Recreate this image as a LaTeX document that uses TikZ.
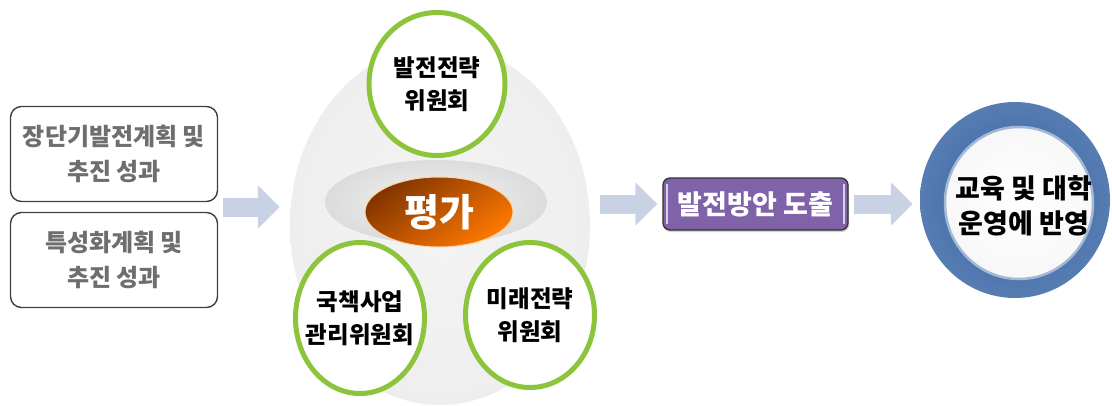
\documentclass[tikz,border=0pt]{standalone}
\usepackage{fontspec}
\setmainfont{Noto Sans CJK KR}
\usetikzlibrary{shapes.geometric,arrows.meta,calc,shadows}
\definecolor{boxtext}{HTML}{6E6E6E}
\definecolor{arrowfill}{HTML}{C9D2E5}
\definecolor{ringgreen}{HTML}{8CC43C}
\definecolor{planpurple}{HTML}{7F62A8}
\definecolor{resultblue}{HTML}{3563A3}
\pgfdeclareradialshading{eggshade}{\pgfpoint{0bp}{0bp}}{color(0bp)=(gray!9); color(30bp)=(gray!14); color(50bp)=(gray!26)}
\pgfdeclareradialshading{ringshade}{\pgfpoint{0bp}{0bp}}{color(0bp)=(gray!8); color(28bp)=(gray!30); color(50bp)=(gray!62)}
\pgfdeclareradialshading{blueshade}{\pgfpoint{0bp}{0bp}}{color(0bp)=(resultblue); color(38bp)=(resultblue!75!white); color(44bp)=(resultblue); color(50bp)=(resultblue!55!black)}
\pgfdeclareradialshading{discshade}{\pgfpoint{0bp}{0bp}}{color(0bp)=(white); color(34bp)=(gray!8); color(50bp)=(gray!35)}
\begin{document}
\begin{tikzpicture}[x=1pt,y=-1pt]
    \tikzset{
      inbox/.style={draw=black!75, line width=1.4pt, rounded corners=11pt, minimum width=207pt, minimum height=95pt, align=center, text=boxtext, font=\fontsize{24}{35}\selectfont\bfseries},
      committee/.style={ellipse, draw=ringgreen, line width=5pt, fill=white, inner sep=0pt},
      cmtext/.style={align=center, font=\fontsize{23.5}{33}\selectfont\bfseries},
      blockarrow/.style={draw=arrowfill, line width=19pt, -{Triangle[length=22pt,width=42pt]}}
    }
    \useasboundingbox (0,0) rectangle (1112,405);
    \node[inbox] (plan1) at (114,154) {장단기발전계획 및\\추진 성과};
    \node[inbox] (plan2) at (114,260) {특성화계획 및\\추진 성과};
    \node[ellipse, shading=eggshade, inner sep=0pt, minimum width=300pt, minimum height=360pt] (egg) at (440,225) {};
    \node[ellipse, shading=ringshade, inner sep=0pt, minimum width=222pt, minimum height=84pt] (ring) at (436,202) {};
    \node[ellipse, inner sep=0pt, minimum width=148pt, minimum height=70pt, draw=orange!35!white, line width=1pt,
          top color=black!55!orange!90!red, bottom color=orange!95!red, shading angle=35,
          text=white, font=\fontsize{38}{38}\selectfont\bfseries] (eval) at (439,212) {평가};
    \node[committee, minimum width=136pt, minimum height=143pt] (strat) at (437,84) {};
    \node[cmtext] at (strat) {발전전략\\위원회};
    \node[committee, minimum width=129pt, minimum height=151pt] (nation) at (360,318) {};
    \node[cmtext] at (nation) {국책사업\\관리위원회};
    \node[committee, minimum width=129pt, minimum height=145pt] (future) at (530,315) {};
    \node[cmtext] at (future) {미래전략\\위원회};
    \node[draw=black!80, line width=1.3pt, fill=planpurple, rounded corners=7pt, minimum width=185pt, minimum height=52pt,
          drop shadow={shadow xshift=1pt, shadow yshift=-2pt, opacity=0.35},
          text=white, font=\fontsize{27}{27}\selectfont\bfseries] (plan) at (755.5,204) {발전방안 도출};
    \draw[planpurple!30!white, line width=2pt] ($(plan.north west)+(5,7)$) -- ($(plan.south west)+(5,-7)$);
    \draw[planpurple!30!white, line width=2pt] ($(plan.north east)+(-5,7)$) -- ($(plan.south east)+(-5,-7)$);
    \node[ellipse, shading=blueshade, inner sep=0pt, minimum width=190pt, minimum height=196pt] (result) at (1015,200) {};
    \node[ellipse, shading=discshade, draw=resultblue!45!white, line width=2.5pt, inner sep=0pt, minimum width=148pt, minimum height=152pt,
          align=center, font=\fontsize{27}{35}\selectfont\bfseries] (resultin) at (1019,203) {};
    \node[align=center, font=\fontsize{27}{35}\selectfont\bfseries] at (1024,206) {교육 및 대학\\운영에 반영};
    \coordinate (mid) at ($(plan1.south east)!.5!(plan2.north east)$);
    \draw[blockarrow] ([xshift=5pt]mid) -- ([xshift=-10pt]mid -| egg.west);
    \draw[blockarrow] ([xshift=10pt]egg.east |- plan.west) -- ([xshift=-5pt]plan.west);
    \draw[blockarrow] ([xshift=5pt]plan.east) -- ([xshift=-7pt]plan.east -| result.west);
\end{tikzpicture}
\end{document}
